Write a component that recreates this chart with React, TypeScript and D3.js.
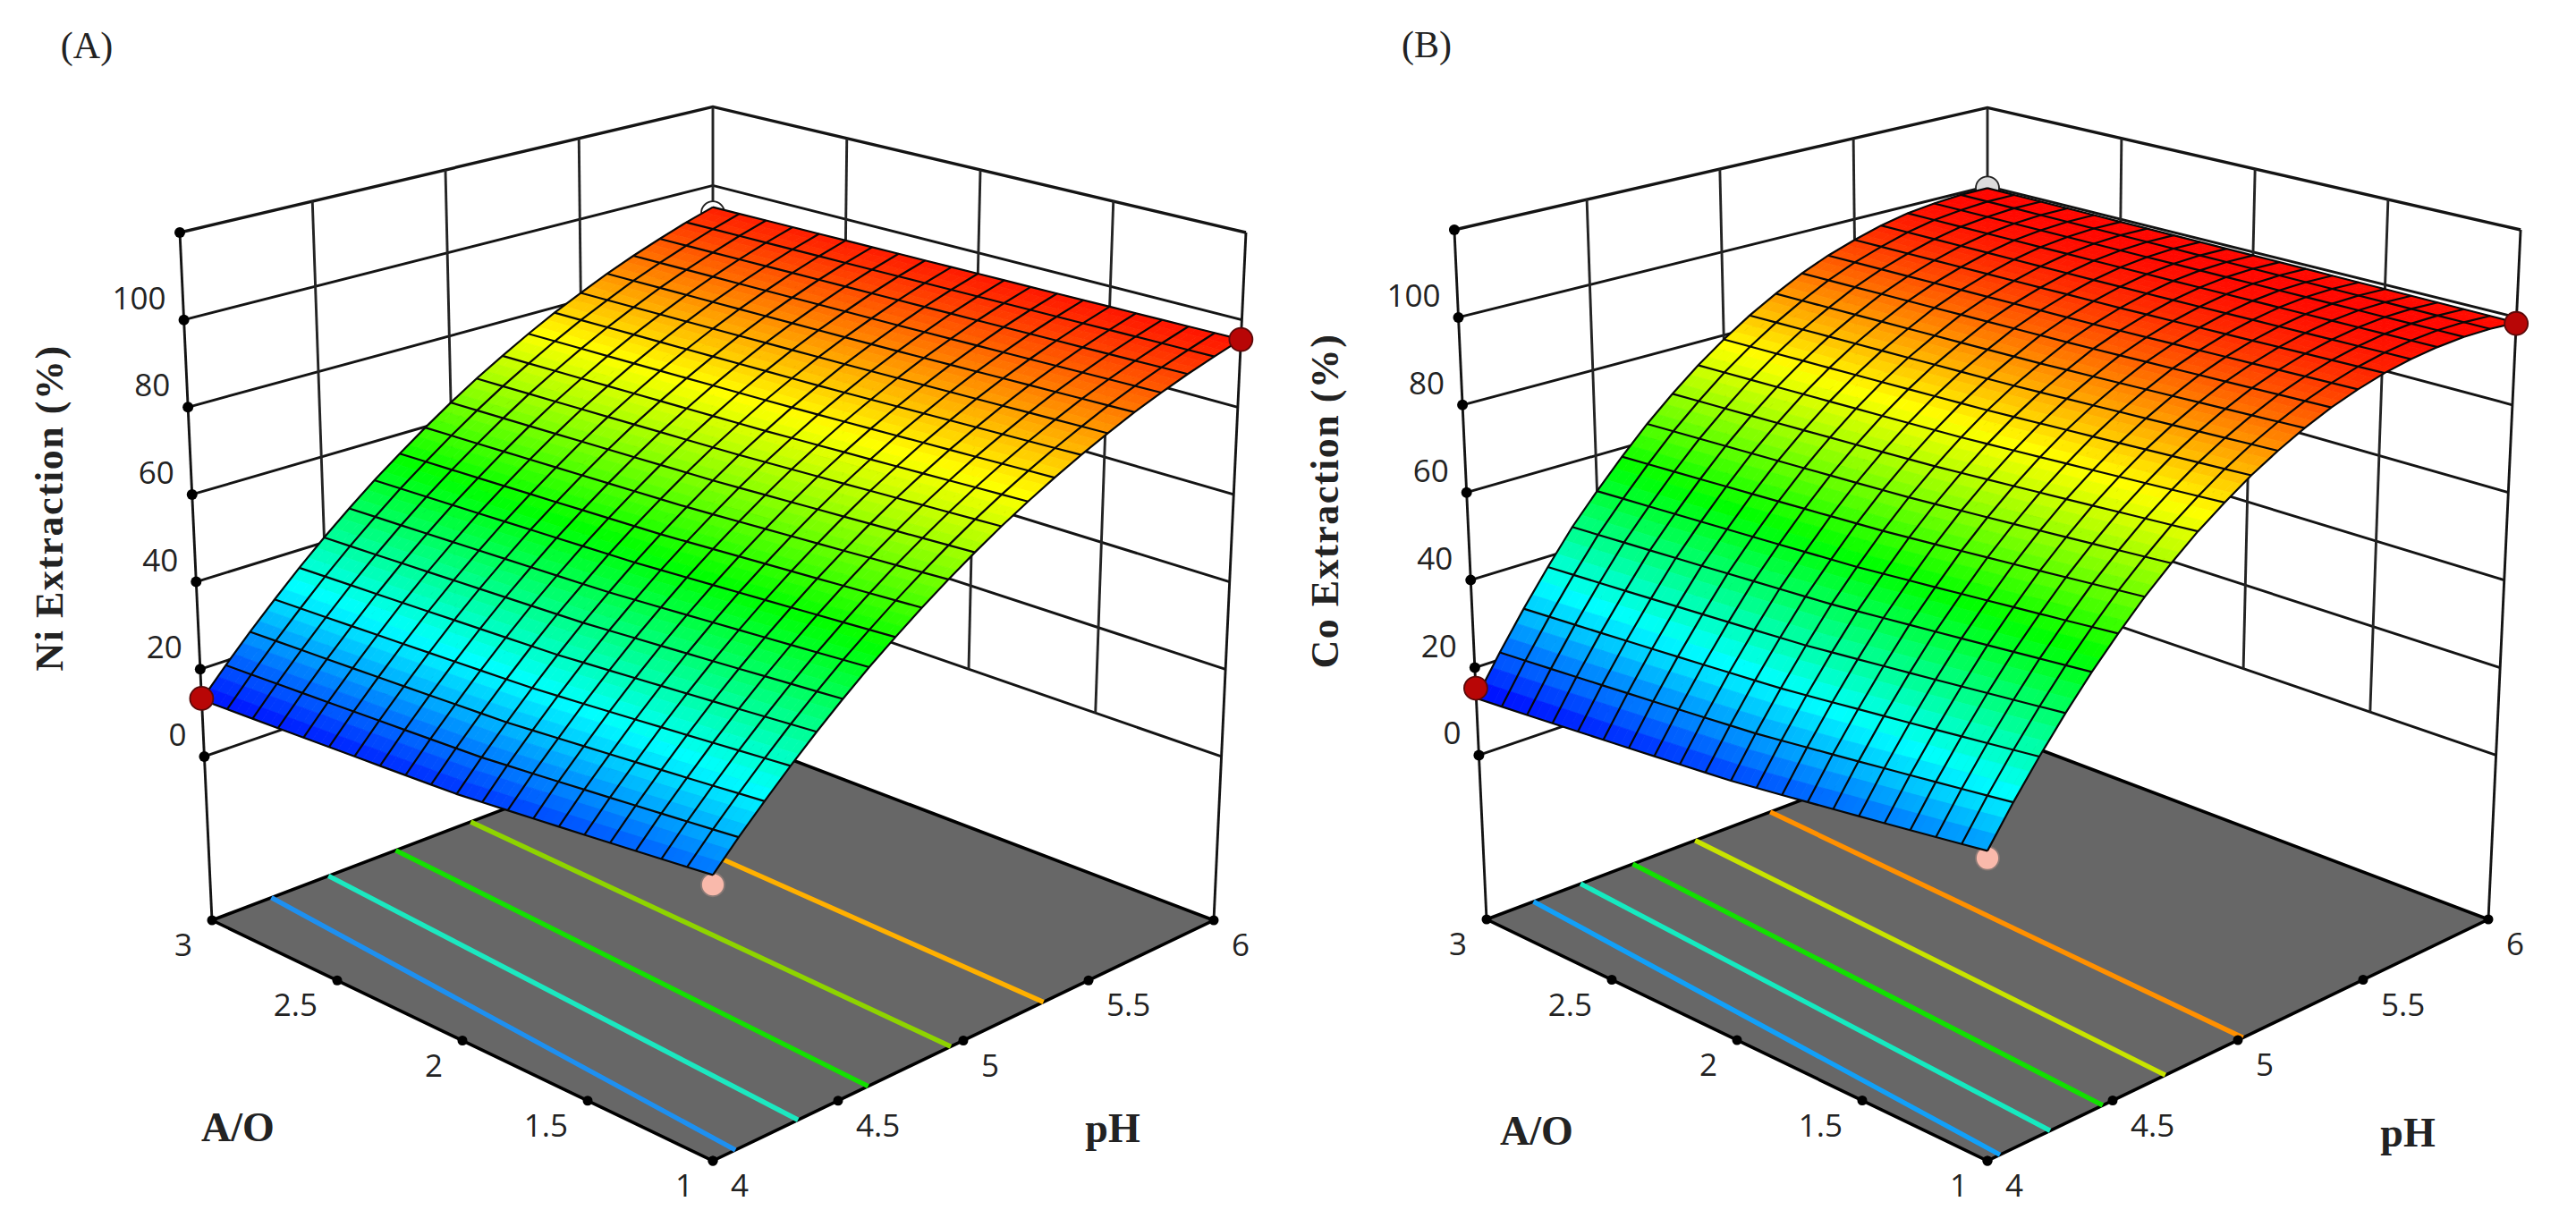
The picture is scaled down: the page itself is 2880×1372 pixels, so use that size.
import React from "react";
import * as d3 from "d3";

const phValues = d3.range(0, 21).map((i) => 4 + i * 0.1);
const aoRows = [1, 2, 3];
const zTicks = [0, 20, 40, 60, 80, 100];
const zTop = 120;
const zFloor = -37.5;
const phTicks = [4, 4.5, 5, 5.5, 6];
const aoTicks = [1, 1.5, 2, 2.5, 3];

// surface heights read along pH, one list per A/O row
const niAo1 = [21.5, 27.1, 32.4, 37.6, 42.6, 47.4, 52, 56.3, 60.5, 64.5, 68.3, 71.9, 75.3, 78.5, 81.5, 84.3, 87, 89.4, 91.6, 93.6, 95.5];
const niAo2 = [16, 21.9, 27.5, 33, 38.3, 43.4, 48.2, 52.9, 57.3, 61.5, 65.6, 69.5, 73.1, 76.6, 79.8, 82.9, 85.7, 88.3, 90.8, 93, 95];
const niAo3 = [13, 19, 24.8, 30.4, 35.9, 41.1, 46.1, 50.9, 55.4, 59.8, 64, 68, 71.7, 75.3, 78.7, 81.8, 84.8, 87.5, 90, 92.4, 94.5];

const coAo1 = [26, 33.8, 41.1, 48, 54.5, 60.5, 66.2, 71.3, 76.1, 80.3, 84.2, 87.6, 90.6, 93.2, 95.3, 97, 98.2, 99, 99.4, 99.3, 98.8];
const coAo2 = [18.5, 26.7, 34.5, 41.9, 49, 55.3, 61.4, 67, 72.1, 76.8, 81.1, 84.9, 88.2, 91.3, 93.7, 95.7, 97.3, 98.5, 99.2, 99.4, 99.2];
const coAo3 = [13, 21.6, 29.8, 37.6, 45.1, 51.7, 58, 64, 69.4, 74.5, 79, 83.1, 86.7, 90, 92.7, 94.9, 96.8, 98.2, 99, 99.5, 99.5];

const niContourAo1 = [4.09, 4.34, 4.62, 4.95, 5.32];
const niContourAo3 = [4.24, 4.47, 4.74, 5.04, 5.4];
const niContourColors = ["#1e90f0", "#1ce8c0", "#14e000", "#8ed400", "#ffb000"];

const coContourAo1 = [4.05, 4.25, 4.46, 4.71, 5.02];
const coContourAo3 = [4.19, 4.38, 4.59, 4.84, 5.14];
const coContourColors = ["#12a0f8", "#16eac0", "#12e000", "#c8e400", "#ff9000"];

// design points: [pH, A/O, response]
const niLowPoints = [[4, 3, 13.3], [6, 1, 95.5]];
const niBehindPoints = [[6, 3, 93], [4, 1, 19.5]];
const coLowPoints = [[4, 3, 15.3], [6, 1, 98.6]];
const coBehindPoints = [[6, 3, 99.5], [4, 1, 24.5]];

const rainbow = ["#0000ff", "#00ffff", "#00ff00", "#ffff00", "#ff0000"];

const lineGen = d3.line();

const makeProjector = (geo) => {
  const [x0, y0] = geo.front;
  const [x1, y1] = geo.right;
  const [x2, y2] = geo.back;
  const [x3, y3] = geo.left;
  const dx1 = x1 - x2;
  const dx2 = x3 - x2;
  const dy1 = y1 - y2;
  const dy2 = y3 - y2;
  const sx = x0 - x1 + x2 - x3;
  const sy = y0 - y1 + y2 - y3;
  const den = dx1 * dy2 - dx2 * dy1;
  const g = (sx * dy2 - dx2 * sy) / den;
  const h = (dx1 * sy - sx * dy1) / den;
  const a = x1 - x0 + g * x1;
  const b = x3 - x0 + h * x3;
  const d = y1 - y0 + g * y1;
  const e = y3 - y0 + h * y3;

  const vx = x0;
  const vy = 13000;
  const wLeft = h + 1;
  // k from the height of the top left corner
  const k = ((geo.topY - y3) * wLeft) / (vy - geo.topY);
  const kappa = k / wLeft;

  const phScale = d3.scaleLinear().domain([4, 6]).range([0, 1]);
  const aoScale = d3.scaleLinear().domain([1, 3]).range([0, 1]);
  const zScale = d3.scaleLinear().domain([zFloor, zTop]).range([0, 1]);
  const warp = (t, c) => t / (1 + c - c * t);

  return (ph, ao, z) => {
    const u = warp(phScale(ph), g);
    const v = warp(aoScale(ao), h);
    const w = warp(zScale(z), kappa) * k;
    const X = a * u + b * v + x0 + w * vx;
    const Y = d * u + e * v + y0 + w * vy;
    const W = g * u + h * v + 1 + w;
    return [X / W, Y / W];
  };
};

const Panel = ({ geo, tag, tagX, tagY, title, titleX, rows, colorDomain, contourAo1, contourAo3, contourColors, lowPoints, behindPoints, backDot }) => {
  const project = makeProjector(geo);

  // each pH column gets its own scale over A/O
  const columnScales = phValues.map((_, i) =>
    d3.scaleLinear().domain(aoRows).range(rows.map((r) => r[i]))
  );
  const alongPh = d3.scaleLinear().domain(phValues).range(phValues.map((_, i) => i));
  const height = (ph, ao) => {
    const pos = alongPh(ph);
    const i0 = Math.min(Math.floor(pos), phValues.length - 2);
    return d3.scaleLinear().domain([i0, i0 + 1]).range([columnScales[i0](ao), columnScales[i0 + 1](ao)])(pos);
  };

  const color = d3
    .scaleLinear()
    .domain(d3.range(5).map((i) => colorDomain[0] + ((colorDomain[1] - colorDomain[0]) * i) / 4))
    .range(rainbow)
    .clamp(true);

  const sub = 3;
  const phFine = d3.range(0, 20 * sub + 1).map((i) => 4 + (i * 0.1) / sub);
  const aoFine = d3.range(0, 20 * sub + 1).map((i) => 1 + (i * 0.1) / sub);

  const facets = [];
  for (let i = phFine.length - 2; i >= 0; i--) {
    for (let j = aoFine.length - 2; j >= 0; j--) {
      const p0 = phFine[i];
      const p1 = phFine[i + 1];
      const a0 = aoFine[j];
      const a1 = aoFine[j + 1];
      const pts = [
        project(p0, a0, height(p0, a0)),
        project(p1, a0, height(p1, a0)),
        project(p1, a1, height(p1, a1)),
        project(p0, a1, height(p0, a1)),
      ];
      const c = color(height((p0 + p1) / 2, (a0 + a1) / 2));
      facets.push(<path key={i + "-" + j} d={lineGen(pts) + "Z"} fill={c} stroke={c} strokeWidth={0.8} />);
    }
  }

  const meshAo = d3.range(0, 21).map((i) => 1 + i * 0.1);

  const floorCorners = [project(4, 1, zFloor), project(6, 1, zFloor), project(6, 3, zFloor), project(4, 3, zFloor)];

  const wallLevels = [...zTicks, zTop];

  return (
    <g>
      <text x={tagX} y={tagY} fontFamily="Liberation Serif" fontSize={42} fill="#222" textAnchor="middle">
        {tag}
      </text>

      {/* walls */}
      {wallLevels.map((z) => (
        <path
          key={"wall" + z}
          d={lineGen([project(4, 3, z), project(6, 3, z), project(6, 1, z)])}
          fill="none"
          stroke="#141414"
          strokeWidth={z === zTop ? 3.4 : 2.9}
        />
      ))}
      {[4.5, 5, 5.5].map((ph) => (
        <path key={"vp" + ph} d={lineGen([project(ph, 3, 0), project(ph, 3, zTop)])} stroke="#242424" strokeWidth={2.9} fill="none" />
      ))}
      {[1.5, 2, 2.5].map((ao) => (
        <path key={"va" + ao} d={lineGen([project(6, ao, 0), project(6, ao, zTop)])} stroke="#242424" strokeWidth={2.9} fill="none" />
      ))}
      {[[4, 3], [6, 1]].map(([ph, ao]) => (
        <path key={"axis" + ph + ao} d={lineGen([project(ph, ao, zFloor), project(ph, ao, zTop)])} stroke="#141414" strokeWidth={2.9} fill="none" />
      ))}
      <path d={lineGen([project(6, 3, 0), project(6, 3, zTop)])} stroke="#242424" strokeWidth={2.9} fill="none" />

      {/* floor */}
      <path d={lineGen(floorCorners) + "Z"} fill="#676767" stroke="#000" strokeWidth={3.6} />
      {contourAo1.map((ph, i) => (
        <path
          key={"contour" + i}
          d={lineGen([project(ph, 1, zFloor), project(contourAo3[i], 3, zFloor)])}
          stroke={contourColors[i]}
          strokeWidth={5.4}
          fill="none"
        />
      ))}

      {/* z axis ticks */}
      {[...zTicks, zTop].map((z) => {
        const [x, y] = project(4, 3, z);
        return <circle key={"zt" + z} cx={x} cy={y} r={6} fill="#000" />;
      })}
      {zTicks.map((z) => {
        const [x, y] = project(4, 3, z);
        return (
          <text key={"zl" + z} x={x - 20} y={y - 12} fontFamily="Open Sans" fontSize={35} fill="#222" textAnchor="end">
            {z}
          </text>
        );
      })}

      {/* floor ticks */}
      {aoTicks.map((ao) => {
        const [x, y] = project(4, ao, zFloor);
        return (
          <g key={"ao" + ao}>
            <circle cx={x} cy={y} r={5.5} fill="#000" />
            <text x={x - 22} y={y + 40} fontFamily="Open Sans" fontSize={35} fill="#222" textAnchor="end">
              {ao}
            </text>
          </g>
        );
      })}
      {phTicks.map((ph) => {
        const [x, y] = project(ph, 1, zFloor);
        return (
          <g key={"ph" + ph}>
            <circle cx={x} cy={y} r={5.5} fill="#000" />
            <text x={x + 20} y={y + 40} fontFamily="Open Sans" fontSize={35} fill="#222" textAnchor="start">
              {ph}
            </text>
          </g>
        );
      })}

      {/* points under the surface */}
      {behindPoints.map(([ph, ao, z], i) => {
        const [x, y] = project(ph, ao, z);
        return (
          <circle
            key={"bp" + i}
            cx={x}
            cy={y}
            r={13}
            fill={i === 0 ? backDot : "#f9b9ab"}
            stroke={i === 0 ? "#222" : "#8a7a76"}
            strokeWidth={1.8}
          />
        );
      })}

      {facets}

      {/* mesh */}
      {phValues.map((ph, i) => (
        <path
          key={"mp" + i}
          d={lineGen(meshAo.map((ao) => project(ph, ao, height(ph, ao))))}
          fill="none"
          stroke="#080808"
          strokeWidth={2.2}
        />
      ))}
      {meshAo.map((ao, i) => (
        <path
          key={"ma" + i}
          d={lineGen(phValues.map((ph) => project(ph, ao, height(ph, ao))))}
          fill="none"
          stroke="#080808"
          strokeWidth={2.2}
        />
      ))}

      {lowPoints.map(([ph, ao, z], i) => {
        const [x, y] = project(ph, ao, z);
        return <circle key={"lp" + i} cx={x} cy={y} r={13} fill="#b80606" stroke="#5a0a0a" strokeWidth={1.8} />;
      })}

      <text
        transform={`translate(${titleX},${geo.titleY}) rotate(-90)`}
        fontFamily="Liberation Serif"
        fontWeight="bold"
        fontSize={44}
        letterSpacing={1.5}
        fill="#222"
        textAnchor="middle"
      >
        {title}
      </text>
      <text x={geo.aoLabel[0]} y={geo.aoLabel[1]} fontFamily="Liberation Serif" fontWeight="bold" fontSize={46} fill="#222" textAnchor="middle">
        A/O
      </text>
      <text x={geo.phLabel[0]} y={geo.phLabel[1]} fontFamily="Liberation Serif" fontWeight="bold" fontSize={46} fill="#222" textAnchor="middle">
        pH
      </text>
    </g>
  );
};

const geoA = {
  front: [797, 1298],
  right: [1357, 1029],
  back: [797, 816],
  left: [237, 1029],
  topY: 260,
  titleY: 568,
  aoLabel: [266, 1276],
  phLabel: [1244, 1277],
};

const geoB = {
  front: [2222, 1298],
  right: [2782, 1028],
  back: [2222, 816],
  left: [1662, 1028],
  topY: 257,
  titleY: 560,
  aoLabel: [1718, 1280],
  phLabel: [2692, 1282],
};

const App = () => {
  return (
    <svg width={2880} height={1372} style={{ position: "absolute", left: 0, top: 0, background: "#fff" }}>
      <Panel
        geo={geoA}
        tag="(A)"
        tagX={97}
        tagY={65}
        title="Ni Extraction (%)"
        titleX={70}
        rows={[niAo1, niAo2, niAo3]}
        colorDomain={[12, 97]}
        contourAo1={niContourAo1}
        contourAo3={niContourAo3}
        contourColors={niContourColors}
        lowPoints={niLowPoints}
        behindPoints={niBehindPoints}
        backDot="#ffffff"
      />
      <Panel
        geo={geoB}
        tag="(B)"
        tagX={1595}
        tagY={64}
        title="Co Extraction (%)"
        titleX={1496}
        rows={[coAo1, coAo2, coAo3]}
        colorDomain={[13, 100]}
        contourAo1={coContourAo1}
        contourAo3={coContourAo3}
        contourColors={coContourColors}
        lowPoints={coLowPoints}
        behindPoints={coBehindPoints}
        backDot="#dcdcdc"
      />
    </svg>
  );
};

export default App;
